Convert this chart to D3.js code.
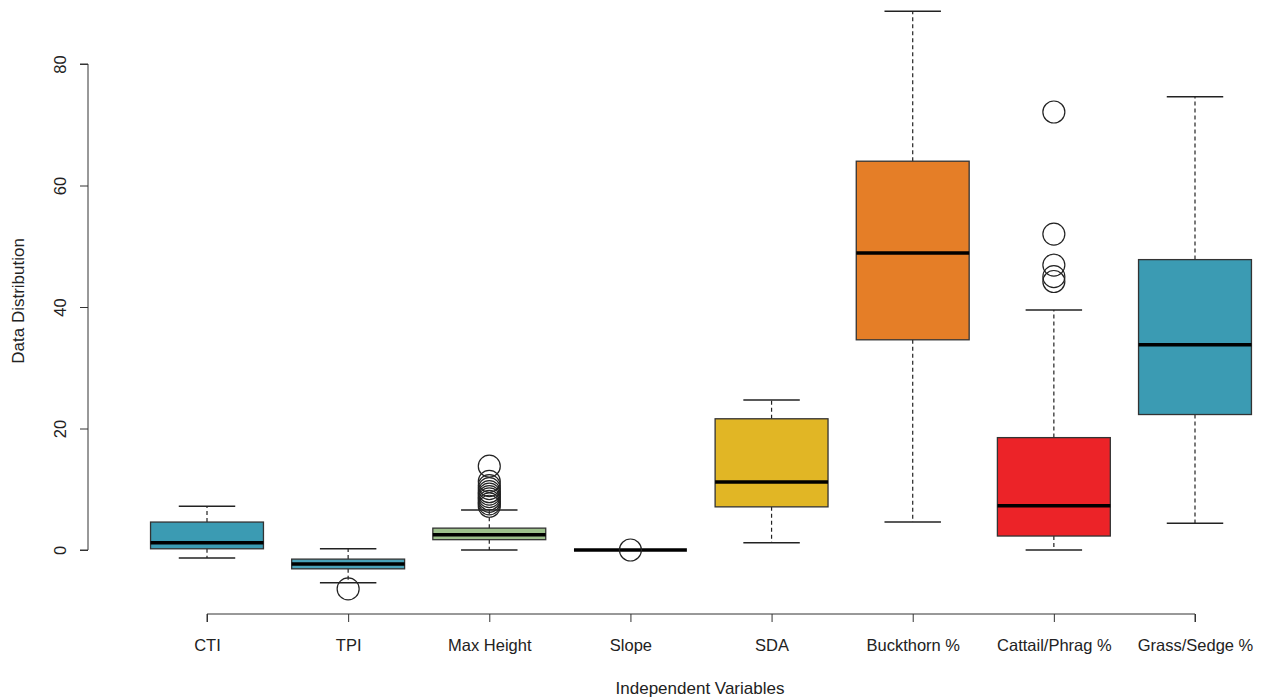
<!DOCTYPE html>
<html>
<head>
<meta charset="utf-8">
<script src="https://cdn.jsdelivr.net/npm/d3@7"></script>
<style>
  html, body { margin: 0; padding: 0; background: #fff; }
  text { font-family: "Liberation Sans", Arial, sans-serif; fill: #222; }
</style>
</head>
<body>
<svg id="chart" width="1265" height="700"></svg>
<script>
// Box-plot summaries per independent variable
const categories = ["CTI", "TPI", "Max Height", "Slope", "SDA", "Buckthorn %", "Cattail/Phrag %", "Grass/Sedge %"];
const lowerWhisker = [-1.3, -5.4, 0.0, 0.0, 1.2, 4.6, 0.0, 4.4];
const q1Values     = [0.2, -3.1, 1.7, 0.0, 7.1, 34.6, 2.3, 22.3];
const medianValues = [1.2, -2.3, 2.5, 0.0, 11.2, 48.9, 7.3, 33.8];
const q3Values     = [4.6, -1.5, 3.6, 0.0, 21.6, 64.0, 18.5, 47.8];
const upperWhisker = [7.2, 0.2, 6.6, 0.0, 24.7, 88.7, 39.5, 74.6];
const outlierValues = [
  [],
  [-6.4],
  [13.8, 11.3, 10.6, 10.1, 9.6, 9.2, 8.8, 8.4, 8.0, 7.6, 7.2],
  [0.0],
  [],
  [],
  [72.1, 52.0, 46.9, 45.0, 44.2],
  []
];
const boxColors = ["#3b9bb3", "#4aa3b9", "#9dc18c", "#3b9bb3", "#e1b625", "#e57e27", "#ec2328", "#3b9bb3"];
const yTicks = [0, 20, 40, 60, 80];

const svg = d3.select("#chart");

const x = d3.scalePoint().domain(categories).range([207, 1195]);
const step = x.step();
const boxW = step * 0.8;
const capW = boxW / 2;
const y = d3.scaleLinear().domain([0, 80]).range([550, 64]);

const tickFont = "16.5px";
const titleFont = "17px";

// Y axis
const yAxis = svg.append("g")
  .attr("transform", "translate(88,0)")
  .call(d3.axisLeft(y).tickValues(yTicks).tickSize(8).tickPadding(0).tickFormat(d3.format("d")));
yAxis.select(".domain").attr("stroke", "#333").attr("d", `M-8,${y(0)}H0V${y(80)}H-8`);
yAxis.selectAll(".tick line").attr("stroke", "#333");
yAxis.selectAll(".tick text")
  .attr("x", null).attr("dy", null)
  .attr("transform", "translate(-28,0) rotate(-90)")
  .attr("text-anchor", "middle")
  .attr("dominant-baseline", "central")
  .style("font-size", tickFont)
  .style("font-family", "'Liberation Sans', Arial, sans-serif")
  .attr("fill", "#222");

// X axis
const xAxis = svg.append("g")
  .attr("transform", "translate(0,614)")
  .call(d3.axisBottom(x).tickSize(8).tickPadding(17));
xAxis.select(".domain").attr("stroke", "#333").attr("d", `M${x(categories[0])},8V0H${x(categories[categories.length-1])}V8`);
xAxis.selectAll(".tick line").attr("stroke", "#333");
xAxis.selectAll(".tick text")
  .style("font-size", tickFont)
  .style("font-family", "'Liberation Sans', Arial, sans-serif")
  .attr("fill", "#222");

// Axis titles
svg.append("text")
  .attr("x", 700).attr("y", 694)
  .attr("text-anchor", "middle")
  .style("font-size", titleFont)
  .text("Independent Variables");
svg.append("text")
  .attr("transform", `translate(24,${y(41)}) rotate(-90)`)
  .attr("text-anchor", "middle")
  .style("font-size", titleFont)
  .text("Data Distribution");

// Boxes
const boxes = svg.append("g").selectAll("g")
  .data(categories.map((c, i) => ({
    c, i,
    lw: lowerWhisker[i], q1: q1Values[i], med: medianValues[i],
    q3: q3Values[i], uw: upperWhisker[i], out: outlierValues[i], color: boxColors[i]
  })))
  .join("g");

// Dashed whiskers
boxes.append("line")
  .attr("x1", d => x(d.c)).attr("x2", d => x(d.c))
  .attr("y1", d => y(d.q3)).attr("y2", d => y(d.uw))
  .attr("stroke", "#222").attr("stroke-width", 1.2).attr("stroke-dasharray", "4,3");
boxes.append("line")
  .attr("x1", d => x(d.c)).attr("x2", d => x(d.c))
  .attr("y1", d => y(d.q1)).attr("y2", d => y(d.lw))
  .attr("stroke", "#222").attr("stroke-width", 1.2).attr("stroke-dasharray", "4,3");

// Whisker caps
boxes.append("line")
  .attr("x1", d => x(d.c) - capW / 2).attr("x2", d => x(d.c) + capW / 2)
  .attr("y1", d => y(d.uw)).attr("y2", d => y(d.uw))
  .attr("stroke", "#222").attr("stroke-width", 1.5);
boxes.append("line")
  .attr("x1", d => x(d.c) - capW / 2).attr("x2", d => x(d.c) + capW / 2)
  .attr("y1", d => y(d.lw)).attr("y2", d => y(d.lw))
  .attr("stroke", "#222").attr("stroke-width", 1.5);

// Box bodies
boxes.append("rect")
  .attr("x", d => x(d.c) - boxW / 2)
  .attr("width", boxW)
  .attr("y", d => y(d.q3))
  .attr("height", d => y(d.q1) - y(d.q3))
  .attr("fill", d => d.color)
  .attr("stroke", "#333").attr("stroke-width", 1.3);

// Medians
boxes.append("line")
  .attr("x1", d => x(d.c) - boxW / 2).attr("x2", d => x(d.c) + boxW / 2)
  .attr("y1", d => y(d.med)).attr("y2", d => y(d.med))
  .attr("stroke", "#000").attr("stroke-width", 3.5);

// Outliers
boxes.selectAll("circle")
  .data(d => d.out.map(v => ({ c: d.c, v })))
  .join("circle")
  .attr("cx", d => x(d.c))
  .attr("cy", d => y(d.v))
  .attr("r", 11)
  .attr("fill", "none")
  .attr("stroke", "#222").attr("stroke-width", 1.2);
</script>
</body>
</html>
